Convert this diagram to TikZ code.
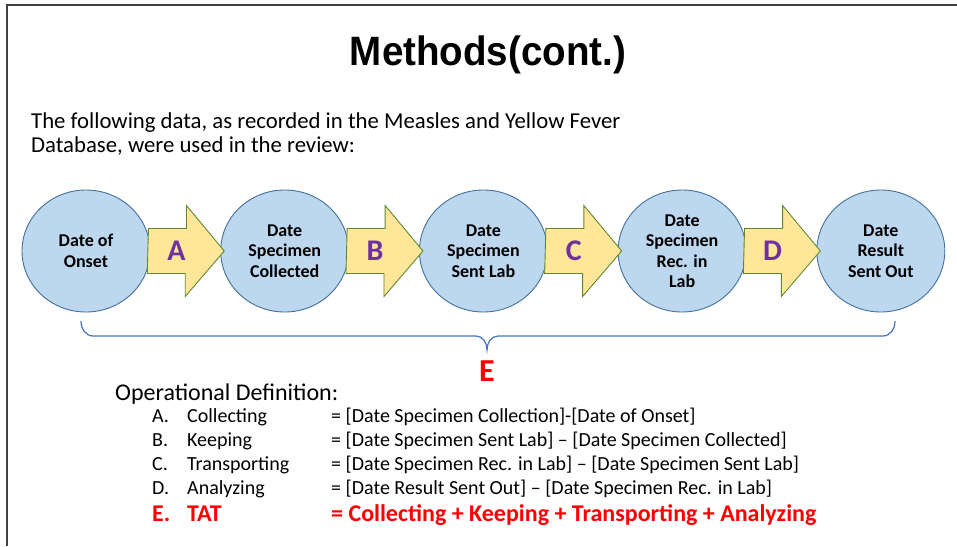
\documentclass[tikz,border=0pt]{standalone}
\usepackage{fontspec}
\setmainfont{Carlito}
\newfontfamily\titlefont{Liberation Sans}
\usepackage{tikz}
\usetikzlibrary{shapes.geometric,positioning,calc}
\definecolor{stagefill}{HTML}{BDD7EE}
\definecolor{stageline}{HTML}{41719C}
\definecolor{gapfill}{HTML}{FFE699}
\definecolor{gapline}{HTML}{5E8A2E}
\definecolor{lettercol}{HTML}{7030A0}
\definecolor{bracecol}{HTML}{4472C4}
\definecolor{tatred}{HTML}{FF0000}
\definecolor{framecol}{HTML}{404040}
\tikzset{
  stage/.style    ={ellipse,draw=stageline,fill=stagefill,line width=0.9pt,minimum width=128pt,minimum height=122pt,inner sep=0pt,align=center,font=\fontsize{18}{20.5}\selectfont\bfseries},
  gaparrow/.style ={draw=gapline,fill=gapfill,line width=0.9pt,line join=miter},
  gaplabel/.style ={font=\fontsize{30}{30}\selectfont\bfseries,text=lettercol,inner sep=0pt},
  bodytext/.style ={anchor=base west,inner sep=0pt,font=\fontsize{22.75}{24}\selectfont},
  deftext/.style  ={anchor=base west,inner sep=0pt,font=\fontsize{20}{22}\selectfont},
  tattext/.style  ={anchor=base west,inner sep=0pt,font=\fontsize{24}{26}\selectfont\bfseries,text=tatred},
  bracepath/.style={draw=bracecol,line width=1.2pt},
}
\begin{document}
\begin{tikzpicture}[x=1pt,y=1pt]
  \useasboundingbox (0,0) rectangle (957,-546);
  \draw[framecol,line width=1.5pt] (7,-546) -- (7,-5) -- (957,-5);
  \node[font=\titlefont\fontsize{41}{41}\selectfont\bfseries,xscale=0.94] (title) at (488,-55) {Methods(cont.)};

  \node[bodytext] (intro1) at (31,-128) {The following data, as recorded in the Measles and Yellow Fever};
  \node[bodytext] (intro2) at (31,-152) {Database, were used in the review:};

  % the five dates
  \node[stage] (s1) at (86,-251) {Date of\\Onset};
  \node[stage,right=69.8pt of s1] (s2) {Date\\Specimen\\Collected};
  \node[stage,right=69.8pt of s2] (s3) {Date\\Specimen\\Sent Lab};
  \node[stage,right=69.8pt of s3] (s4) {Date\\Specimen\\Rec. in\\Lab};
  \node[stage,right=69.8pt of s4] (s5) {Date\\Result\\Sent Out};
  \foreach \i/\j/\lbl in {1/2/A,2/3/B,3/4/C,4/5/D}{
     \draw[gaparrow] ([shift={(-2,22.5)}]s\i.east) -- ++(38,0) -- ++(0,23)
        -- ([xshift=4pt]s\j.west) -- ++(-39,-45.5) -- ++(0,23) -- ++(-38,0) -- cycle;
     \node[gaplabel] (g\lbl) at ([xshift=26pt]s\i.east) {\lbl};
  }

  % brace over the whole span
  \coordinate (braceL) at (81,-321);
  \coordinate (braceR) at (895,-321);
  \coordinate (braceTip) at (487,-350);
  \draw[bracepath] (braceL) to[out=-90,in=180] (93,-336) -- (476,-336)
     to[out=0,in=90] (braceTip) to[out=90,in=180] (498,-336) -- (883,-336)
     to[out=0,in=-90] (braceR);
  \node[font=\fontsize{32}{32}\selectfont\bfseries,text=tatred] (tatE) at (487,-371) {E};

  \node[bodytext,font=\fontsize{24}{24}\selectfont] (opdef) at (115,-400) {Operational Definition:};
  \foreach \k/\y/\name/\formula in {
     A/422/Collecting/{= [Date Specimen Collection]-[Date of Onset]},
     B/446/Keeping/{= [Date Specimen Sent Lab] – [Date Specimen Collected]},
     C/470/Transporting/{= [Date Specimen Rec. in Lab] – [Date Specimen Sent Lab]},
     D/494/Analyzing/{= [Date Result Sent Out] – [Date Specimen Rec. in Lab]}}{
     \node[deftext] (lt\k) at (152,-\y) {\k.};
     \node[deftext] (ln\k) at (187,-\y) {\name};
     \node[deftext] (lf\k) at (331,-\y) {\formula};
  }
  \node[tattext] (ltE) at (152,-521) {E.};
  \node[tattext] (lnE) at (187,-521) {TAT};
  \node[tattext] (lfE) at (331,-521) {= Collecting + Keeping + Transporting + Analyzing};
\end{tikzpicture}
\end{document}
